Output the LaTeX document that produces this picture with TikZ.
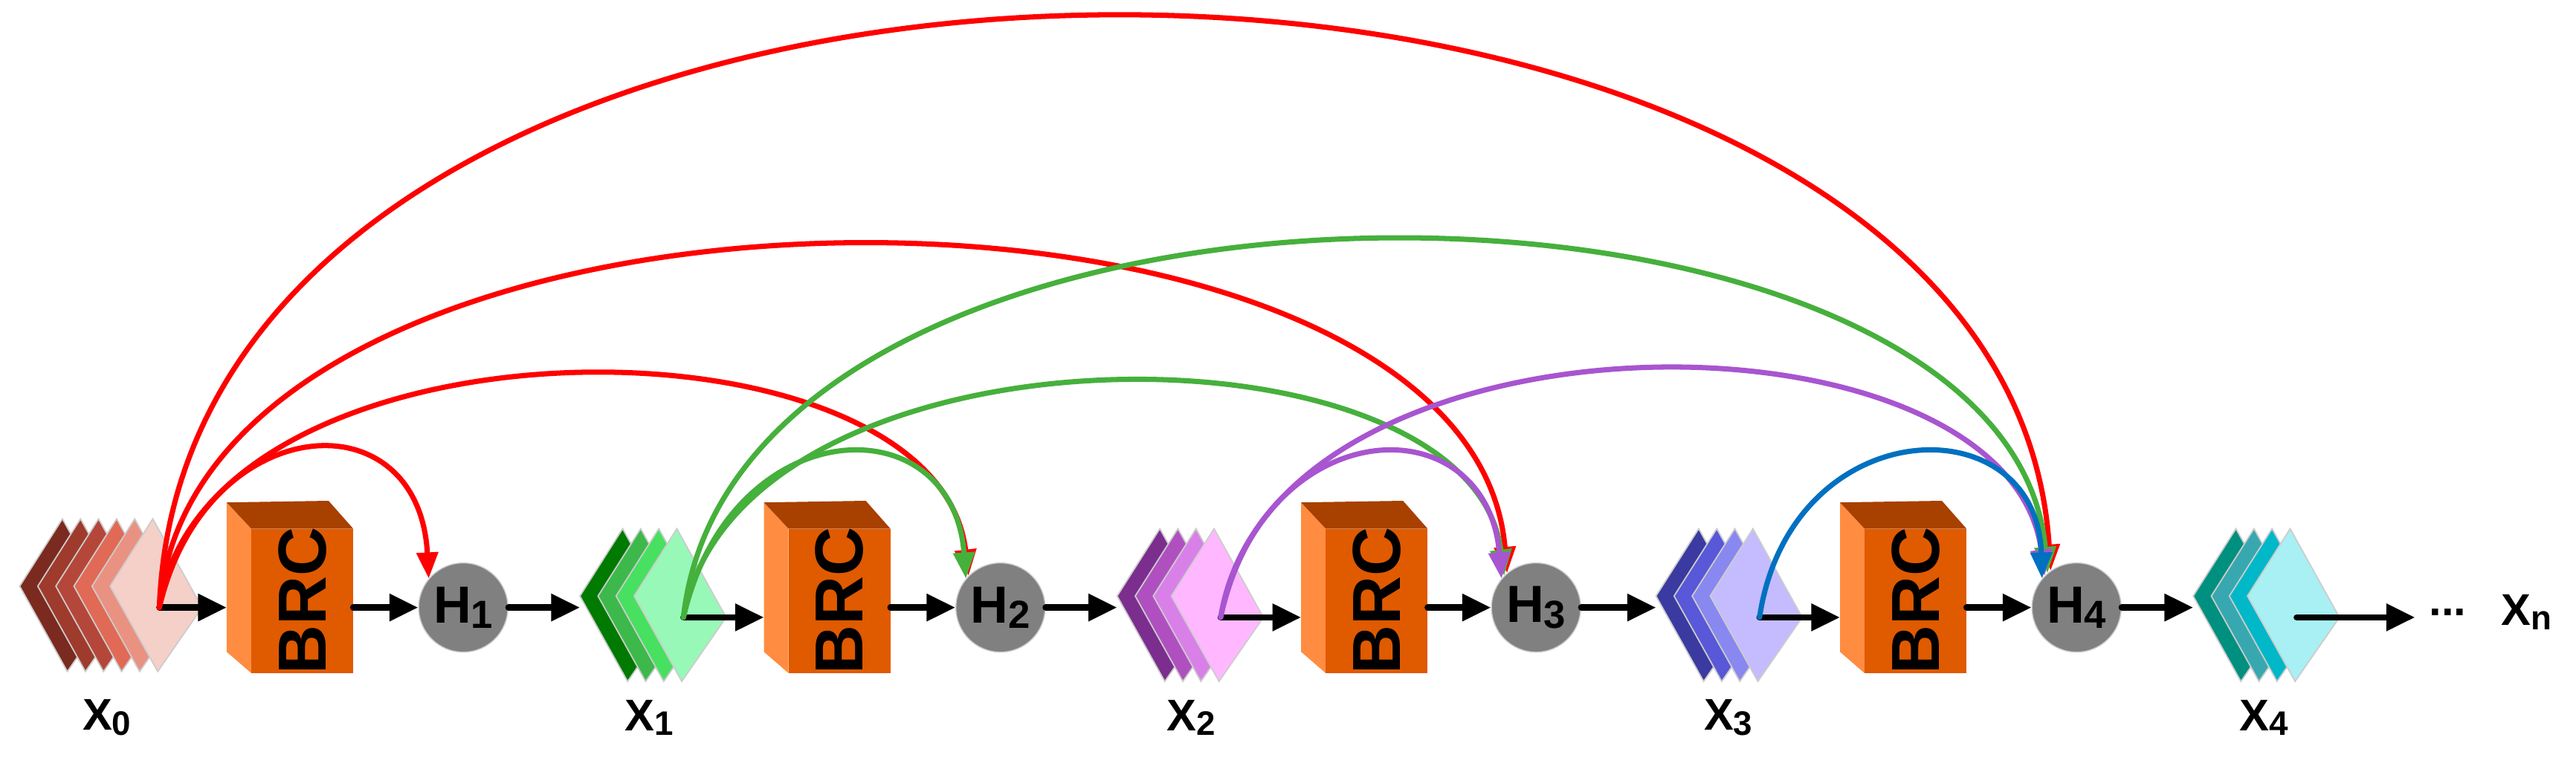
\documentclass[tikz,border=0pt]{standalone}
\usepackage{fontspec}
\setmainfont{Liberation Sans}
\usetikzlibrary{arrows.meta}
\definecolor{cred}{HTML}{FF0000}
\definecolor{cgreen}{HTML}{46B03C}
\definecolor{cpurp}{HTML}{A855D0}
\definecolor{cblue}{HTML}{0070C0}
\definecolor{side}{HTML}{FF8C40}
\definecolor{front}{HTML}{E05A00}
\definecolor{topf}{HTML}{A84000}
\newcommand\mystk[5]{% x, y, name, n, colours
  \foreach \c [count=\i from 0] in {#5} {
    \definecolor{tmpc}{HTML}{\c}
    \fill[tmpc, draw=black!20, line width=0.5pt] ({#1+11*\i},#2) -- ++(26,-41) -- ++(30,54) -- ++(-27,39) -- cycle;}
  \coordinate (#3) at ({#1+11*(#4-1)+30},{#2+13});
  \coordinate (#3w) at (#1,{#2+10});}
\newcommand\mybrc[2]{% x, name
  \fill[side] (#1,306) -- ({#1+15},322) -- ({#1+15},410) -- (#1,397) -- cycle;
  \fill[topf] (#1,306) -- ({#1+62},305) -- ({#1+77},322) -- ({#1+15},322) -- cycle;
  \fill[front] ({#1+15},322) rectangle ({#1+77},410);
  \node[rotate=90, font=\bfseries\fontsize{26}{26}\selectfont] at ({#1+46},366) {BRC};
  \coordinate (#2w) at (#1,370);
  \coordinate (#2e) at ({#1+77},370);}
\begin{document}
\begin{tikzpicture}[x=0.0221cm, y=-0.0221cm,
  blk/.style={line width=2.4pt, line cap=round, -{Triangle[length=11pt,width=10pt]}},
  hn/.style={circle, fill=black!50, draw=black!20, minimum width=1.15cm, minimum height=1.2cm, inner sep=0pt, font=\bfseries\fontsize{20}{20}\selectfont},
  arc/.style={line width=2pt, line cap=round, -{Triangle[length=10pt,width=8pt]}},
  lab/.style={font=\bfseries\fontsize{17}{17}\selectfont}]
\useasboundingbox (0,0) rectangle (1568,470);
\mystk{12}{357}{x0}{6}{7B2A20,9E3B2D,B5473A,E06A55,EA9282,F5D0C8}
\mystk{353}{363}{x1}{4}{007A00,3CB94A,48E060,98F8B8}
\mystk{680}{363}{x2}{4}{7B2E8E,B050C0,D880E8,FFB8FF}
\mystk{1008}{363}{x3}{4}{3A3AA0,5858D8,8888F0,C4BCFF}
\mystk{1335}{363}{x4}{4}{009080,38A8B0,00B8C8,A8F0F4}
\mybrc{138}{b1}
\mybrc{465}{b2}
\mybrc{792}{b3}
\mybrc{1120}{b4}
\node[hn] (h1) at (282,370) {H\raisebox{-0.2ex}{\fontsize{15}{15}\selectfont 1}};
\node[hn] (h2) at (609,370) {H\raisebox{-0.2ex}{\fontsize{15}{15}\selectfont 2}};
\node[hn] (h3) at (935,370) {H\raisebox{-0.2ex}{\fontsize{15}{15}\selectfont 3}};
\node[hn] (h4) at (1264,370) {H\raisebox{-0.2ex}{\fontsize{15}{15}\selectfont 4}};
\node[lab] (l0) at (65,437) {X\raisebox{-0.2ex}{\fontsize{13}{13}\selectfont 0}};
\node[lab] (l1) at (395,437) {X\raisebox{-0.2ex}{\fontsize{13}{13}\selectfont 1}};
\node[lab] (l2) at (725,437) {X\raisebox{-0.2ex}{\fontsize{13}{13}\selectfont 2}};
\node[lab] (l3) at (1052,437) {X\raisebox{-0.2ex}{\fontsize{13}{13}\selectfont 3}};
\node[lab] (l4) at (1378,437) {X\raisebox{-0.2ex}{\fontsize{13}{13}\selectfont 4}};
\node[lab] (xn) at (1538,373) {X\raisebox{-0.2ex}{\fontsize{13}{13}\selectfont n}};
\node[lab] (dots) at (1490,373) {...};
\coordinate (end) at (1470,376);
\foreach \a/\b in {x0/b1w, x1/b2w, x2/b3w, x3/b4w, x4/end}{
  \draw[blk] (\a) -- (\b |- \a);}
\foreach \i in {1,2,3,4}{
  \draw[blk] (b\i e) -- (h\i.west);
  \draw[blk] (h\i.east) -- (x\i w |- h\i.east);}
\draw[arc, cred] (x0) .. controls (115,-110) and (1220,-100) .. (h4.125);
\draw[arc, cred] (x0) .. controls (120,80) and (895,80) .. (h3.130);
\draw[arc, cred] (x0) .. controls (125,185) and (570,185) .. (h2.135);
\draw[arc, cred] (x0) .. controls (125,250) and (255,240) .. (h1.140);
\draw[arc, cgreen] (x1) .. controls (450,70) and (1222,80) .. (h4.130);
\draw[arc, cgreen] (x1) .. controls (450,190) and (895,190) .. (h3.135);
\draw[arc, cgreen] (x1) .. controls (445,250) and (580,245) .. (h2.140);
\draw[arc, cpurp] (x2) .. controls (775,180) and (1222,180) .. (h4.135);
\draw[arc, cpurp] (x2) .. controls (770,250) and (905,245) .. (h3.140);
\draw[arc, cblue] (x3) .. controls (1090,250) and (1240,245) .. (h4.140);
\end{tikzpicture}
\end{document}
